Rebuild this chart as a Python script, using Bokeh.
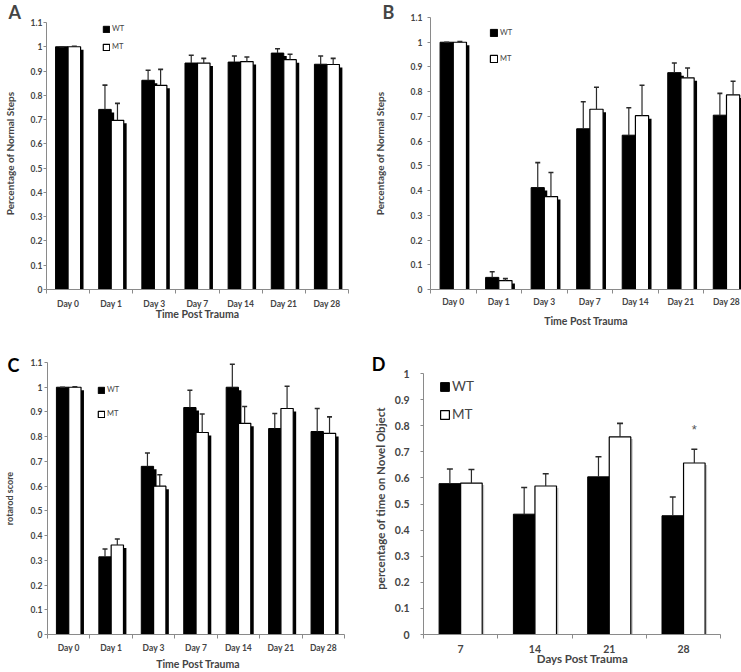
import numpy as np
from bokeh.plotting import figure
from bokeh.models import (ColumnDataSource, FixedTicker, CustomJSTickFormatter,
                          Legend, LegendItem, Title, Range1d, LinearAxis)
from bokeh.layouts import row, column
from bokeh.embed import file_html
from bokeh.resources import INLINE

# ------------------------------------------------------------------ data
days = ["Day 0", "Day 1", "Day 3", "Day 7", "Day 14", "Day 21", "Day 28"]

# Panel A - Percentage of Normal Steps
a_wt = [1.000, 0.742, 0.862, 0.933, 0.937, 0.974, 0.928]
a_wt_err = [0.000, 0.100, 0.041, 0.032, 0.025, 0.018, 0.034]
a_mt = [1.000, 0.697, 0.841, 0.933, 0.939, 0.947, 0.927]
a_mt_err = [0.002, 0.070, 0.066, 0.019, 0.019, 0.022, 0.025]

# Panel B - Percentage of Normal Steps
b_wt = [1.000, 0.049, 0.412, 0.650, 0.624, 0.877, 0.705]
b_wt_err = [0.000, 0.023, 0.101, 0.109, 0.111, 0.039, 0.088]
b_mt = [1.000, 0.036, 0.376, 0.729, 0.703, 0.856, 0.787]
b_mt_err = [0.003, 0.008, 0.097, 0.089, 0.123, 0.040, 0.055]

# Panel C - rotarod score
c_wt = [1.000, 0.314, 0.680, 0.918, 1.000, 0.833, 0.821]
c_wt_err = [0.000, 0.032, 0.054, 0.070, 0.093, 0.061, 0.093]
c_mt = [1.000, 0.362, 0.600, 0.817, 0.854, 0.914, 0.813]
c_mt_err = [0.002, 0.024, 0.046, 0.075, 0.068, 0.090, 0.067]

# Panel D - percentage of time on Novel Object
d_days = ["7", "14", "21", "28"]
d_wt = [0.578, 0.461, 0.604, 0.455]
d_wt_err = [0.056, 0.102, 0.077, 0.072]
d_mt = [0.580, 0.569, 0.757, 0.657]
d_mt_err = [0.052, 0.047, 0.052, 0.053]
d_sig = ["", "", "", "*"]

y_ticks_11 = [round(0.1 * i, 1) for i in range(12)]
y_ticks_10 = [round(0.1 * i, 1) for i in range(11)]

FONT = "Lato"
GREY = "#8a8a8a"
ERR = "#2a2a2a"


def panel(letter, cats, wt, wt_err, mt, mt_err, yticks, ylabel, xlabel, c, sig=None):
    n = len(cats)
    ymax = yticks[-1]
    W, H, bl, br, bt, bb = c["W"], c["H"], c["bl"], c["br"], c["bt"], c["bb"]
    fw, fh = W - bl - br, H - bt - bb
    fbot = H - bb
    x_end = n * fw / (c["ax_right"] - bl)
    ppu = (fbot - c["ax_top"]) / ymax          # pixels per y unit
    y_end = fh / ppu
    p = figure(width=W, height=H, x_range=Range1d(0, x_end), y_range=Range1d(0, y_end),
               output_backend="svg", toolbar_location=None, tools="", title=None,
               min_border_left=bl, min_border_right=br,
               min_border_top=bt, min_border_bottom=bb)
    p.outline_line_color = None
    p.grid.visible = False

    bw = 0.29
    centers = np.arange(n) + 0.5
    wt = np.array(wt); mt = np.array(mt)
    wt_top = wt + np.array(wt_err); mt_top = mt + np.array(mt_err)
    dx = c["sh_dx"] * x_end / fw
    dy = c["sh_dy"] / ppu
    src = ColumnDataSource(dict(
        x_wt=centers - bw / 2, x_mt=centers + bw / 2,
        xs_wt=centers - bw / 2 + dx, xs_mt=centers + bw / 2 + dx,
        wt=wt, mt=mt, wt_s=wt - dy, mt_s=mt - dy, wt_top=wt_top, mt_top=mt_top))

    sh = c["shadow"]
    p.vbar(x="xs_wt", top="wt_s", bottom=0, width=bw, source=src,
           fill_color=sh, line_color=None)
    r_wt = p.vbar(x="x_wt", top="wt", bottom=0, width=bw, source=src,
                  fill_color="black", line_color="black", line_width=1)
    p.vbar(x="xs_mt", top="mt_s", bottom=0, width=bw, source=src,
           fill_color=sh, line_color=None)
    r_mt = p.vbar(x="x_mt", top="mt", bottom=0, width=bw, source=src,
                  fill_color="white", line_color="black", line_width=1.2)

    for xk, b, t in (("x_wt", "wt", "wt_top"), ("x_mt", "mt", "mt_top")):
        p.segment(x0=xk, y0=b, x1=xk, y1=t, source=src, line_color=ERR, line_width=1.2)
        p.scatter(x=xk, y=t, source=src, marker="dash", size=c["cap"],
                  line_color=ERR, line_width=1.6)

    if sig is not None:
        ssrc = ColumnDataSource(dict(x=centers + bw / 2, y=mt_top + 0.075, t=sig))
        p.text(x="x", y="y", text="t", source=ssrc, text_align="center",
               text_baseline="middle", text_font_size="13px", text_color="#555555")

    # x axis
    xa = p.xaxis[0]
    xa.ticker = FixedTicker(ticks=list(centers), minor_ticks=list(range(n + 1)))
    xa.formatter = CustomJSTickFormatter(args=dict(cats=cats),
                                         code="return cats[Math.floor(tick)] || ''")
    if x_end > n + 1e-6:
        xa.bounds = (0, n)
    xa.major_tick_out = 0
    xa.major_tick_in = 0
    xa.major_tick_line_color = None
    xa.minor_tick_out = 4
    xa.minor_tick_in = 0
    xa.minor_tick_line_color = GREY
    xa.axis_line_color = GREY
    xa.major_label_text_font = FONT
    xa.major_label_text_font_style = "bold"
    xa.major_label_text_font_size = c["tick_fs"]
    xa.major_label_standoff = c["x_std"]
    xa.axis_label = xlabel
    xa.axis_label_text_font = FONT
    xa.axis_label_text_font_style = "bold"
    xa.axis_label_text_font_size = c["xl_fs"]
    xa.axis_label_standoff = c["xl_std"]

    # y axis
    ya = p.yaxis[0]
    ya.ticker = FixedTicker(ticks=yticks)
    ya.formatter = CustomJSTickFormatter(code="return String(Math.round(tick * 10) / 10)")
    ya.bounds = (0, ymax)
    ya.major_tick_out = 3
    ya.major_tick_in = 0
    ya.minor_tick_line_color = None
    ya.major_tick_line_color = GREY
    ya.axis_line_color = GREY
    ya.major_label_text_font = FONT
    ya.major_label_text_font_style = "bold"
    ya.major_label_text_font_size = c["tick_fs"]
    ya.major_label_standoff = c["y_std"]

    if c.get("letter_axis"):
        # panel letter as a tick label of an outer left axis that also carries the y title
        ly = y_end - c["L_dy"] / ppu
        lc = (fbot - c["yl_center"]) / ppu
        la = LinearAxis(ticker=FixedTicker(ticks=[ly]),
                        formatter=CustomJSTickFormatter(args=dict(t=letter), code="return t"),
                        bounds=(2 * lc - ly - 0.001, ly + 0.001),
                        axis_line_color=None, major_tick_line_color=None,
                        minor_tick_line_color=None, major_tick_out=0, major_tick_in=0,
                        major_label_standoff=c["L_std"], major_label_text_font=FONT,
                        major_label_text_font_style="bold",
                        major_label_text_font_size="18px", major_label_text_color="black",
                        axis_label=ylabel, axis_label_text_font=FONT,
                        axis_label_text_font_style="bold",
                        axis_label_text_font_size=c["yl_fs"],
                        axis_label_standoff=c["yl_std"])
        p.add_layout(la, "left")
    else:
        ya.axis_label = ylabel
        ya.axis_label_text_font = FONT
        ya.axis_label_text_font_style = "bold"
        ya.axis_label_text_font_size = c["yl_fs"]
        ya.axis_label_standoff = c["yl_std"]
        p.add_layout(Title(text=letter, align="left", offset=c["L_x"] - bl,
                           standoff=-10, vertical_align="bottom",
                           text_font=FONT, text_font_style="bold",
                           text_font_size="18px"), "above")

    # legend
    gh = int(round(c["lg_s"] / 0.8))
    row_h = max(gh, c["lg_rh"])
    lx, top1, top2 = c["lg_x"], c["lg_y1"], c["lg_y2"]
    spacing = int(round((top2 - top1) - row_h))
    leg = Legend(items=[LegendItem(label="WT", renderers=[r_wt]),
                        LegendItem(label="MT", renderers=[r_mt])],
                 location=(int(round(lx)), int(round(fh - (top2 - bt) - row_h / 2))),
                 orientation="vertical", padding=0, margin=0, spacing=spacing,
                 glyph_width=gh, glyph_height=gh, label_height=gh,
                 label_standoff=c["lg_std"], label_text_font=FONT,
                 label_text_font_size=c["lg_fs"], border_line_color=None,
                 background_fill_alpha=0)
    p.add_layout(leg)
    return p


# layout values are in pixels of each panel (frames of a row / column share borders)
cfg_a = dict(W=370, H=330, bl=40, br=22, bt=17, bb=41, ax_right=348, ax_top=22,
             sh_dx=3, sh_dy=3, shadow="black", cap=5, tick_fs="8.5px", x_std=5,
             xl_fs="10.5px", xl_std=-4, y_std=1, yl_fs="10px", yl_std=12,
             lg_s=6, lg_x=56, lg_y1=29, lg_y2=46.8, lg_std=2, lg_fs="7.5px", lg_rh=9,
             L_x=2)
cfg_b = dict(W=371, H=330, bl=50, br=0, bt=17, bb=41, ax_right=379, ax_top=17,
             sh_dx=3, sh_dy=3, shadow="black", cap=5, tick_fs="8.5px", x_std=3,
             xl_fs="10.5px", xl_std=5, y_std=5, yl_fs="10px", yl_std=22,
             lg_s=7, lg_x=59, lg_y1=33, lg_y2=58.7, lg_std=2, lg_fs="7.5px", lg_rh=9,
             L_x=2)
cfg_c = dict(W=370, H=342, bl=40, br=22, bt=32, bb=38, ax_right=344, ax_top=32,
             sh_dx=3, sh_dy=3, shadow="black", cap=5, tick_fs="8.5px", x_std=4,
             xl_fs="10.5px", xl_std=2, y_std=2, yl_fs="9px", yl_std=-10,
             lg_s=6, lg_x=50, lg_y1=59.7, lg_y2=83.8, lg_std=2, lg_fs="7.5px", lg_rh=9,
             letter_axis=True, L_dy=2.5, L_std=8, yl_center=161)
cfg_d = dict(W=371, H=342, bl=50, br=0, bt=32, bb=38, ax_right=350, ax_top=43,
             sh_dx=2, sh_dy=2, shadow="#c8c8c8", cap=6, tick_fs="10.5px", x_std=6,
             xl_fs="11.5px", xl_std=-4, y_std=11, yl_fs="11.5px", yl_std=-18,
             lg_s=8.5, lg_x=16, lg_y1=57.5, lg_y2=85, lg_std=2, lg_fs="13.5px", lg_rh=15,
             letter_axis=True, L_dy=1.5, L_std=6, yl_center=143.5)

pa = panel("A", days, a_wt, a_wt_err, a_mt, a_mt_err, y_ticks_11,
           "Percentage of Normal Steps", "Time Post Trauma", cfg_a)
pb = panel("B", days, b_wt, b_wt_err, b_mt, b_mt_err, y_ticks_11,
           "Percentage of Normal Steps", "Time Post Trauma", cfg_b)
pc = panel("C", days, c_wt, c_wt_err, c_mt, c_mt_err, y_ticks_11,
           "rotarod score", "Time Post Trauma", cfg_c)
pd_ = panel("D", d_days, d_wt, d_wt_err, d_mt, d_mt_err, y_ticks_10,
            "percentage of time on Novel Object", "Days Post Trauma", cfg_d, sig=d_sig)

layout = column(row(pa, pb, spacing=0), row(pc, pd_, spacing=0), spacing=0)
open("out.html", "w").write(file_html(layout, INLINE))
